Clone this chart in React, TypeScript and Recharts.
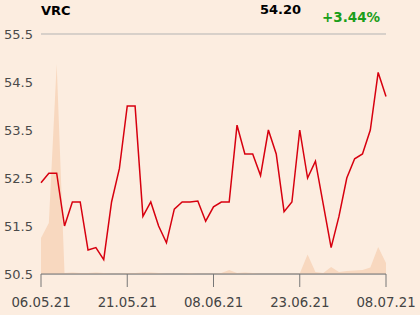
import React from "react";
import { ComposedChart, Line, Area, XAxis, YAxis, CartesianGrid } from "recharts";

const dates = [
  "06.05.21","07.05.21","10.05.21","11.05.21","12.05.21","13.05.21","14.05.21","17.05.21","18.05.21","19.05.21","20.05.21","21.05.21",
  "25.05.21","26.05.21","27.05.21","28.05.21","31.05.21","01.06.21","02.06.21","03.06.21","04.06.21","07.06.21","08.06.21",
  "09.06.21","10.06.21","11.06.21","14.06.21","15.06.21","16.06.21","17.06.21","18.06.21","21.06.21","22.06.21","23.06.21",
  "24.06.21","25.06.21","28.06.21","29.06.21","30.06.21","01.07.21","02.07.21","05.07.21","06.07.21","07.07.21","08.07.21",
];

const prices = [
  52.4, 52.6, 52.6, 51.5, 52.0, 52.0, 51.0, 51.05, 50.8, 52.0, 52.7, 54.0,
  54.0, 51.7, 52.0, 51.5, 51.15, 51.85, 52.0, 52.0, 52.02, 51.6, 51.9,
  52.0, 52.0, 53.6, 53.0, 53.0, 52.55, 53.5, 53.0, 51.8, 52.0, 53.5,
  52.5, 52.85, 51.95, 51.05, 51.7, 52.5, 52.9, 53.0, 53.5, 54.7, 54.2,
];

const volumes = [
  36, 51, 210, 1, 1.5, 1, 1, 1.5, 1, 0.5, 0.5, 1,
  1, 1.5, 1.5, 1, 0.5, 0.5, 0.5, 1, 0.5, 0.5, 0.5,
  1, 4, 1, 1.5, 1, 0.5, 0.5, 0.5, 0.5, 0.5, 0.5,
  19.5, 2, 1, 7, 2, 3, 3.5, 4, 6.5, 27, 11,
];

const xTicks = ["06.05.21", "21.05.21", "08.06.21", "23.06.21", "08.07.21"];
const yTicks = [50.5, 51.5, 52.5, 53.5, 54.5, 55.5];

const data = dates.map((d, i) => ({ date: d, price: prices[i], volume: volumes[i] }));

const font = "'DejaVu Sans', sans-serif";

export default function App() {
  return (
    <div style={{ position: "fixed", left: 0, top: 0, width: 420, height: 315, background: "#fcede0" }}>
      <ComposedChart width={420} height={315} data={data} margin={{ top: 34, right: 34, bottom: 0, left: 0 }}>
        <CartesianGrid vertical={false} stroke="#b3b3b3" strokeWidth={1} />
        <XAxis
          dataKey="date"
          ticks={xTicks}
          interval={0}
          height={41}
          tickSize={13}
          tickMargin={11}
          stroke="#777"
          tick={{ fill: "#444", fontSize: 13.3, fontFamily: font }}
        />
        <YAxis
          yAxisId="p"
          domain={[50.5, 55.5]}
          ticks={yTicks}
          width={41}
          axisLine={false}
          tickLine={false}
          tickFormatter={(v: number) => v.toFixed(1)}
          tick={{ fill: "#4a4a4a", fontSize: 13, fontFamily: font }}
        />
        <YAxis yAxisId="v" orientation="right" domain={[0, 240]} hide />
        <Area
          yAxisId="v"
          dataKey="volume"
          type="linear"
          stroke="none"
          fill="#f8d8bf"
          fillOpacity={1}
          isAnimationActive={false}
        />
        <Line
          yAxisId="p"
          dataKey="price"
          type="linear"
          stroke="#d7000f"
          strokeWidth={1.5}
          dot={false}
          isAnimationActive={false}
        />
      </ComposedChart>
      <svg width={420} height={30} style={{ position: "absolute", left: 0, top: 0 }}>
        <text x={41} y={15} fontFamily={font} fontWeight="bold" fontSize={13} fill="#000">VRC</text>
        <text x={260} y={14} fontFamily={font} fontWeight="bold" fontSize={13} fill="#000">54.20</text>
        <text x={322} y={22} fontFamily={font} fontWeight="bold" fontSize={13.5} fill="#1a9e1a">+3.44%</text>
      </svg>
    </div>
  );
}
